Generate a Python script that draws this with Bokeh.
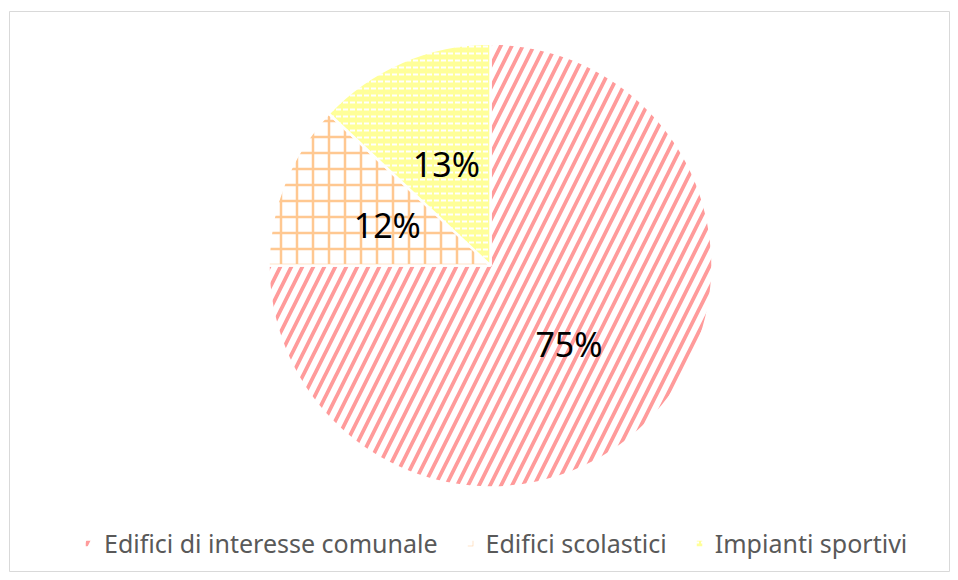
import math
from bokeh.plotting import figure
from bokeh.models import ColumnDataSource, Legend, LegendItem, Range1d
from bokeh.core.properties import value
from bokeh.embed import file_html
from bokeh.resources import INLINE

categories = ["Edifici di interesse comunale", "Edifici scolastici", "Impianti sportivi"]
shares = [75, 12, 13]
labels = ["75%", "12%", "13%"]

fill_colors = ["#FFFFFF", "#FFFFFF", "#FFFF99"]
hatch_colors = ["#FF9B9B", "#FFC891", "#FFFFFF"]
hatch_patterns = ["/", "+", '"']
hatch_scales = [22, 16, 7]
hatch_weights = [3.8, 2.5, 2.0]

total = sum(shares)
starts, ends, lx, ly = [], [], [], []
cum = 0.0
R = 222
for s in shares:
    a0 = math.pi / 2 - 2 * math.pi * cum / total
    cum += s
    a1 = math.pi / 2 - 2 * math.pi * cum / total
    starts.append(a0)
    ends.append(a1)
    mid = (a0 + a1) / 2
    lx.append(0.5 * R * math.cos(mid))
    ly.append(0.5 * R * math.sin(mid))

src = ColumnDataSource(dict(cat=categories, start=starts, end=ends,
                            fill=fill_colors, hc=hatch_colors, hp=hatch_patterns,
                            hs=hatch_scales, hw=hatch_weights))
lsrc = ColumnDataSource(dict(x=lx, y=ly, t=labels))

W, H = 950, 572
p = figure(width=W, height=H, output_backend="svg", toolbar_location=None,
           x_range=Range1d(-481, 460), y_range=Range1d(-307, 254),
           min_border=0, min_border_top=11, min_border_left=9)
p.axis.visible = False
p.grid.visible = False
p.outline_line_color = "#D9D9D9"
p.outline_line_width = 1

r = p.wedge(x=0, y=0, radius=R, start_angle="start", end_angle="end", direction="clock",
            source=src, fill_color="fill", hatch_color="hc", hatch_pattern="hp",
            hatch_scale="hs", hatch_weight="hw", line_color="white", line_width=2.5)

p.text(x="x", y="y", text="t", source=lsrc, text_align="center", text_baseline="middle",
       text_font=value("Noto Sans"), text_font_size="34px", text_color="black")

items = [LegendItem(label=c, renderers=[r], index=i) for i, c in enumerate(categories)]
legend = Legend(items=items, orientation="horizontal", location=(74, 12),
                glyph_width=10, glyph_height=10, label_standoff=11, spacing=27,
                label_height=24,
                label_text_font="Noto Sans", label_text_font_size="25px",
                label_text_color="#595959", border_line_alpha=0,
                background_fill_alpha=0, padding=0, margin=0)
p.add_layout(legend)

open("out.html", "w").write(file_html(p, INLINE))
